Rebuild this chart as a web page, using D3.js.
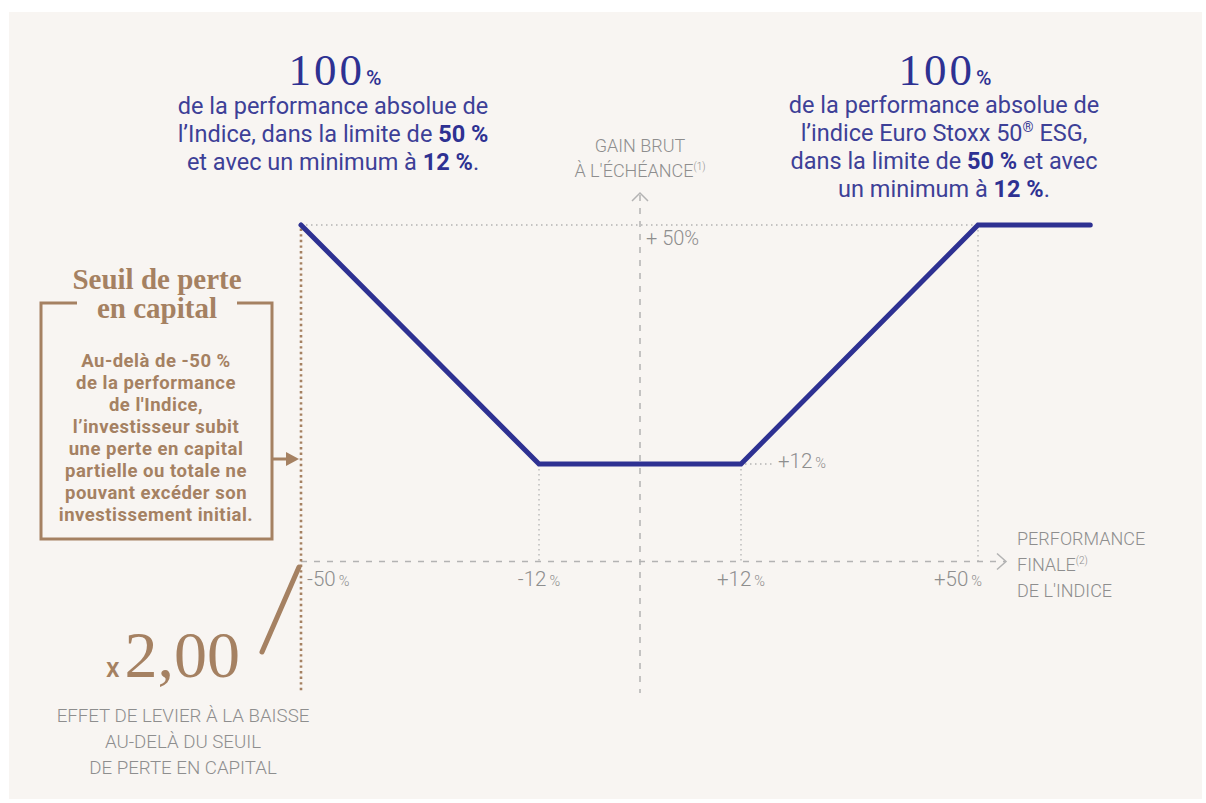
<!DOCTYPE html>
<html><head><meta charset="utf-8">
<script src="https://cdn.jsdelivr.net/npm/d3@7"></script>
<style>html,body{margin:0;padding:0;background:#fff;}svg{display:block;}</style>
</head><body>
<script>
// ---- data ----
const perf = [-50, -12, 12, 50, 68];          // performance finale de l'indice (%)
const gain = [50, 12, 12, 50, 50];             // gain brut à l'échéance (%)
const xTickValues = [-50, -12, 12, 50];
const xTickLabels = ["-50", "-12", "+12", "+50"];
const yTickValues = [50, 12];
const yTickLabels = ["+ 50%", "+12"];
const leverage = "2,00";

const W = 1206, H = 803;
const NAVY = "#2e3192", TXT = "#3d4097", BROWN = "#a58162", GRAY = "#8e8e8e", LGRAY = "#b3b3b3";
const SANS = "Roboto, 'Noto Sans', sans-serif", SERIF = "'Liberation Serif', 'DejaVu Serif', serif";

const svg = d3.select("body").append("svg").attr("width", W).attr("height", H);
svg.append("rect").attr("x", 9).attr("y", 12).attr("width", 1193).attr("height", 787).attr("fill", "#f8f5f2");

// piecewise (schematic) scales
const x = d3.scaleLinear().domain([-50, -12, 12, 50]).range([301, 539, 741, 978]);
const y = d3.scaleLinear().domain([0, 12, 50]).range([561.5, 464, 225]);

// ---- axes ----
const g = svg.append("g");
g.append("line").attr("x1", x(-50)).attr("x2", x(50) + 27).attr("y1", y(0)).attr("y2", y(0))
  .attr("stroke", LGRAY).attr("stroke-width", 1.5).attr("stroke-dasharray", "6,7");
g.append("path").attr("d", `M${x(50) + 19},${y(0) - 8} L${x(50) + 28},${y(0)} L${x(50) + 19},${y(0) + 8}`)
  .attr("fill", "none").attr("stroke", LGRAY).attr("stroke-width", 1.5);
g.append("line").attr("x1", x(0)).attr("x2", x(0)).attr("y1", y(50) - 30).attr("y2", 693)
  .attr("stroke", LGRAY).attr("stroke-width", 1.5).attr("stroke-dasharray", "6,7");
g.append("path").attr("d", `M${x(0) - 8},${y(50) - 24} L${x(0)},${y(50) - 32} L${x(0) + 8},${y(50) - 24}`)
  .attr("fill", "none").attr("stroke", LGRAY).attr("stroke-width", 1.5);

const dot = (x1, y1, x2, y2) => g.append("line").attr("x1", x1).attr("y1", y1).attr("x2", x2).attr("y2", y2)
  .attr("stroke", LGRAY).attr("stroke-width", 1.3).attr("stroke-dasharray", "1.5,3.5");
dot(x(-50), y(50), x(50), y(50));
dot(x(50), y(50), x(50), y(0));
dot(x(-12), y(12), x(-12), y(0));
dot(x(12), y(12), x(12), y(0));
dot(x(12) + 4, y(12), x(12) + 33, y(12));

g.append("line").attr("x1", x(-50)).attr("x2", x(-50)).attr("y1", y(50) - 2).attr("y2", 693)
  .attr("stroke", BROWN).attr("stroke-width", 2.6).attr("stroke-dasharray", "2.4,3.2");

// ---- payoff line ----
const pts = perf.map((p, i) => ({p, g: gain[i]}));
svg.append("path").datum(pts)
  .attr("d", d3.line().x(d => x(d.p)).y(d => y(d.g)))
  .attr("fill", "none").attr("stroke", NAVY).attr("stroke-width", 5)
  .attr("stroke-linecap", "round").attr("stroke-linejoin", "miter");

// ---- tick labels ----
xTickValues.forEach((v, i) => {
  const anchor = i === 0 ? "start" : (i === xTickValues.length - 1 ? "end" : "middle");
  const dx = i === 0 ? 6 : (i === xTickValues.length - 1 ? 4 : 0);
  const t = svg.append("text").attr("x", x(v) + dx).attr("y", 586).attr("text-anchor", anchor)
    .attr("font-family", SANS).attr("font-weight", 300).attr("fill", GRAY).attr("font-size", 20.5);
  t.append("tspan").text(xTickLabels[i]);
  t.append("tspan").attr("font-size", 14.5).attr("dx", 3).text("%");
});
svg.append("text").attr("x", x(0) + 6).attr("y", y(yTickValues[0]) + 20)
  .attr("font-family", SANS).attr("font-weight", 300).attr("fill", GRAY).attr("font-size", 20).text(yTickLabels[0]);
{
  const t = svg.append("text").attr("x", x(12) + 37).attr("y", y(yTickValues[1]) + 4)
    .attr("font-family", SANS).attr("font-weight", 300).attr("fill", GRAY).attr("font-size", 20.5);
  t.append("tspan").text(yTickLabels[1]);
  t.append("tspan").attr("font-size", 14.5).attr("dx", 3).text("%");
}

function grayText(xp, yp, anchor, parts) {
  const t = svg.append("text").attr("x", xp).attr("y", yp).attr("text-anchor", anchor)
    .attr("font-family", SANS).attr("font-weight", 300).attr("fill", GRAY).attr("font-size", 18);
  parts.forEach(p => {
    if (typeof p === "string") t.append("tspan").text(p);
    else t.append("tspan").attr("font-size", 10).attr("dy", -7).text(p.sup);
  });
  return t;
}
grayText(x(0), 152, "middle", ["GAIN BRUT"]);
grayText(x(0), 177, "middle", ["À L'ÉCHÉANCE", {sup: "(1)"}]);
grayText(1017, 545, "start", ["PERFORMANCE"]);
grayText(1017, 571, "start", ["FINALE", {sup: "(2)"}]);
grayText(1017, 597, "start", ["DE L'INDICE"]);

// ---- top texts ----
function bigNum(cx, yb) {
  const t = svg.append("text").attr("x", cx).attr("y", yb).attr("text-anchor", "middle").attr("fill", NAVY);
  t.append("tspan").attr("font-family", SERIF).attr("font-size", 45).attr("letter-spacing", 3).text("100");
  t.append("tspan").attr("font-family", SANS).attr("font-size", 21).attr("font-weight", 500).attr("dx", 1).text("%");
}
function block(cx, y0, lh, lines) {
  lines.forEach((ln, i) => {
    const t = svg.append("text").attr("x", cx).attr("y", y0 + i * lh).attr("text-anchor", "middle")
      .attr("font-family", SANS).attr("font-size", 23.5).attr("fill", TXT);
    let shift = 0;
    ln.forEach(p => {
      let sp;
      if (typeof p === "string") sp = t.append("tspan").text(p);
      else if (p.b) sp = t.append("tspan").attr("font-weight", 700).attr("fill", NAVY).text(p.b);
      else if (p.sup) { sp = t.append("tspan").attr("font-size", 14).attr("dy", -9).text(p.sup); shift = 9; return; }
      if (shift) { sp.attr("dy", shift); shift = 0; }
    });
  });
}
bigNum(335, 85);
block(333, 114, 28, [
  ["de la performance absolue de"],
  ["l’Indice, dans la limite de ", {b: "50 %"}],
  ["et avec un minimum à ", {b: "12 %"}, "."]
]);
bigNum(945, 85);
block(944, 113, 28, [
  ["de la performance absolue de"],
  ["l’indice Euro Stoxx 50", {sup: "®"}, " ESG,"],
  ["dans la limite de ", {b: "50 %"}, " et avec"],
  ["un minimum à ", {b: "12 %"}, "."]
]);

// ---- seuil de perte box ----
const bx0 = 41, bx1 = 272, by0 = 303, by1 = 539;
svg.append("path").attr("d", `M77,${by0} H${bx0} V${by1} H${bx1} V${by0} H237`)
  .attr("fill", "none").attr("stroke", BROWN).attr("stroke-width", 3);
["Seuil de perte", "en capital"].forEach((s, i) => {
  svg.append("text").attr("x", 157).attr("y", 289 + i * 29).attr("text-anchor", "middle")
    .attr("font-family", SERIF).attr("font-weight", 700).attr("font-size", 29).attr("fill", BROWN).text(s);
});
["Au-delà de -50 %", "de la performance", "de l'Indice,", "l’investisseur subit", "une perte en capital",
 "partielle ou totale ne", "pouvant excéder son", "investissement initial."].forEach((s, i) => {
  svg.append("text").attr("x", 156).attr("y", 367 + i * 22).attr("text-anchor", "middle")
    .attr("font-family", SANS).attr("font-weight", 700).attr("font-size", 18.5).attr("letter-spacing", 0.5)
    .attr("fill", BROWN).text(s);
});
svg.append("line").attr("x1", bx1).attr("x2", 288).attr("y1", 459).attr("y2", 459).attr("stroke", BROWN).attr("stroke-width", 3);
svg.append("path").attr("d", "M286,452 L299,459 L286,466 Z").attr("fill", BROWN);

// ---- leverage ----
svg.append("line").attr("x1", 262).attr("y1", 652).attr("x2", 299).attr("y2", 567)
  .attr("stroke", BROWN).attr("stroke-width", 5).attr("stroke-linecap", "round");
{
  const t = svg.append("text").attr("x", 240).attr("y", 677).attr("text-anchor", "end").attr("fill", BROWN);
  t.append("tspan").attr("font-family", SANS).attr("font-weight", 500).attr("font-size", 27).text("x");
  t.append("tspan").attr("font-family", SERIF).attr("font-size", 66).attr("dx", 5).text(leverage);
}
["EFFET DE LEVIER À LA BAISSE", "AU-DELÀ DU SEUIL", "DE PERTE EN CAPITAL"].forEach((s, i) => {
  svg.append("text").attr("x", 183).attr("y", 722 + i * 26).attr("text-anchor", "middle")
    .attr("font-family", SANS).attr("font-weight", 300).attr("font-size", 18.7).attr("fill", GRAY).text(s);
});
</script>
</body></html>
